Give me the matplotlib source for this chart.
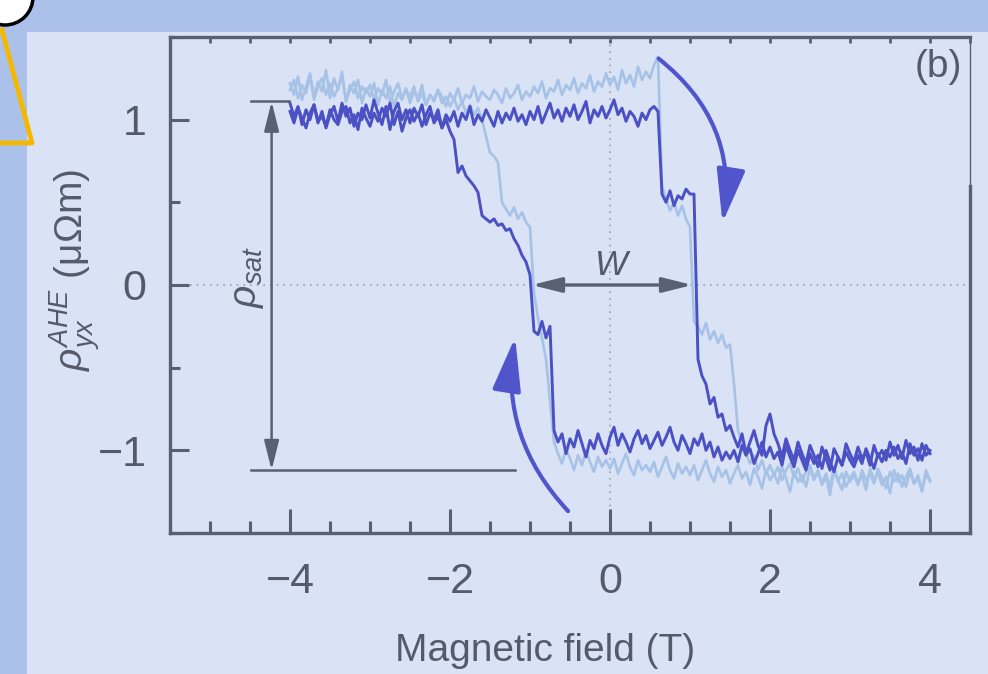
import numpy as np
import matplotlib
matplotlib.use("Agg")
import matplotlib.pyplot as plt
from matplotlib.patches import FancyArrowPatch, Rectangle, Circle
from matplotlib.lines import Line2D
from matplotlib.ticker import MultipleLocator

plt.rcParams['font.family'] = ['Liberation Sans', 'DejaVu Sans']
plt.rcParams['mathtext.fontset'] = 'custom'
plt.rcParams['mathtext.rm'] = 'Liberation Sans'
plt.rcParams['mathtext.it'] = 'Liberation Sans:italic'

# field grid, -4 T .. 4 T in 0.05 T steps (161 points)
field = np.round(np.arange(-4.0, 4.0001, 0.05), 2)

# dark trace, sweep up (-4 -> +4)
dark_up = (
    [1.10, 1.02, 1.08, 0.97, 1.06, 1.00, 1.09, 0.98, 1.05, 0.95,
     1.03, 1.08, 0.99, 1.10, 1.02, 1.07, 0.96, 1.04, 1.00, 1.09,
     1.01, 1.12, 1.04, 0.97, 1.08, 0.94, 1.05, 1.10, 1.00, 1.06,
     0.98, 1.07, 1.02, 1.09, 0.97, 1.04, 1.00, 1.06, 0.95, 1.03,
     0.99, 1.05, 0.96, 1.04, 1.00, 1.08, 0.97, 1.03, 0.99, 1.06,
     1.01, 0.96, 1.05, 0.98, 1.04, 1.00, 1.07, 0.99, 1.03, 0.97,
     1.05, 1.00, 1.08, 0.98, 1.04, 1.10, 1.01, 1.06, 0.99, 1.07,
     1.02, 1.09, 1.00, 1.05, 1.11, 0.98, 1.06, 1.02, 1.08, 1.01,
     1.06, 1.12, 1.03, 1.07, 0.99, 1.05, 1.02, 0.96, 1.04, 1.00,
     1.06, 1.08, 1.05]
    + [0.55, 0.50, 0.57, 0.48, 0.54, 0.52, 0.58, 0.55, 0.55]
    + [-0.45, -0.55, -0.60, -0.72, -0.68, -0.80, -0.78, -0.88, -0.85]
    + [-0.92, -0.98, -0.90, -1.02, -0.95, -0.88, -0.97, -1.03, -0.85, -0.78,
       -0.90, -0.96, -1.04, -0.93, -1.00, -1.06, -0.95, -1.02, -1.08, -0.97,
       -1.03, -1.10, -0.98, -1.05, -1.12, -0.99, -1.04, -1.09, -0.96, -1.02,
       -1.07, -0.98, -1.05, -1.01, -1.09, -0.97, -1.04, -1.00, -1.06, -0.95,
       -1.03, -0.97, -1.05, -0.94, -1.02, -0.98, -1.06, -0.96, -1.03, -1.00]
)

# dark trace, sweep down (+4 -> -4), listed on the same field grid
dark_down = (
    [1.05, 0.98, 1.07, 1.01, 0.95, 1.04, 1.09, 0.99, 1.02, 0.96,
     1.06, 1.00, 0.97, 1.05, 1.08, 0.98, 1.03, 0.94, 1.07, 1.01,
     0.96, 1.04, 0.99, 1.07, 1.02, 1.10, 0.97, 1.05, 0.93, 1.01,
     1.06, 0.99, 1.04, 0.96, 1.03, 1.08, 0.98, 1.02, 0.95, 1.00]
    + [0.93, 0.88, 0.68, 0.72, 0.66, 0.63, 0.60, 0.56, 0.42, 0.40,
       0.38, 0.40, 0.36, 0.37, 0.33, 0.34, 0.28, 0.24, 0.18, 0.14]
    + [0.06, -0.28, -0.30, -0.22, -0.32, -0.25]
    + [-0.88, -0.95, -0.90, -1.02, -0.93, -0.98, -0.88, -0.96, -1.04, -0.94,
       -0.99, -0.90, -0.97, -1.02,
       -0.92, -0.86, -0.97, -0.90, -0.95, -1.01, -0.93, -0.88, -0.96, -0.91,
       -0.99, -0.94, -0.89, -0.97, -0.92, -0.86, -0.95, -1.00, -0.91, -0.96,
       -1.02, -0.93, -0.97, -0.90, -1.00, -0.95, -1.04, -0.98, -1.06, -1.01, -1.05,
       -1.00, -1.07, -0.97, -1.03, -0.99, -1.08, -1.02, -0.95, -1.04, -0.98,
       -1.05, -1.01, -1.09, -0.97, -1.04, -1.10, -1.00, -1.06, -1.12, -1.02,
       -1.08, -1.03, -1.11, -1.00, -1.07, -1.13, -1.04, -1.09, -1.01, -1.06,
       -1.10, -1.03, -1.08, -0.99, -1.05, -1.11, -1.02, -1.07, -1.00, -1.04,
       -0.98, -1.05, -1.01, -1.08, -0.96, -1.03, -0.99, -1.06, -0.97, -1.02]
)

# light trace, sweep up
light_up = (
    [1.22, 1.15, 1.26, 1.12, 1.20, 1.28, 1.14, 1.23, 1.17, 1.30,
     1.13, 1.25, 1.18, 1.29, 1.11, 1.21, 1.16, 1.24, 1.10, 1.19,
     1.14, 1.22, 1.09, 1.18, 1.13, 1.20, 1.08, 1.16, 1.12, 1.19,
     1.10, 1.17, 1.13, 1.21, 1.09, 1.15, 1.11, 1.18, 1.14, 1.08,
     1.16, 1.12, 1.19, 1.10, 1.15, 1.13, 1.20, 1.11, 1.17, 1.14,
     1.12, 1.18, 1.15, 1.10, 1.19, 1.13, 1.16, 1.21, 1.12, 1.17,
     1.14, 1.20, 1.16, 1.23, 1.13, 1.19, 1.17, 1.24, 1.15, 1.21,
     1.18, 1.25, 1.16, 1.22, 1.19, 1.27, 1.17, 1.23, 1.20, 1.28,
     1.21, 1.26, 1.18, 1.30, 1.22, 1.27, 1.20, 1.32, 1.24, 1.29,
     1.25, 1.33, 1.38]
    + [0.60, 0.52, 0.45, 0.50, 0.42, 0.48, 0.40, 0.35]
    + [-0.22, -0.25, -0.30, -0.23, -0.33, -0.28, -0.35, -0.30, -0.38, -0.36]
    + [-0.60, -0.88, -0.95, -1.02,
       -1.08, -1.03, -1.12, -1.06, -1.14, -1.09,
       -1.15, -1.10, -1.18, -1.12, -1.08, -1.16, -1.11, -1.19, -1.13, -1.09,
       -1.17, -1.12, -1.20, -1.14, -1.22, -1.10, -1.18, -1.24, -1.13, -1.19,
       -1.15, -1.21, -1.12, -1.18, -1.14, -1.20, -1.11, -1.17, -1.23, -1.13,
       -1.19, -1.14, -1.22, -1.16, -1.11, -1.20, -1.15, -1.24, -1.12, -1.18]
)

# light trace, sweep down
light_down = (
    [1.18, 1.24, 1.13, 1.21, 1.16, 1.27, 1.12, 1.20, 1.25, 1.15,
     1.22, 1.14, 1.19, 1.26, 1.11, 1.18, 1.23, 1.13, 1.20, 1.16,
     1.21, 1.12, 1.19, 1.15, 1.24, 1.10, 1.17, 1.22, 1.13, 1.18,
     1.14, 1.20, 1.11, 1.16, 1.09, 1.15, 1.12, 1.18, 1.10, 1.14,
     1.08, 1.13, 1.06, 1.11, 1.04, 1.09, 1.03, 1.07, 1.00, 0.90]
    + [0.80, 0.78, 0.74, 0.50, 0.46, 0.42, 0.47, 0.40, 0.44, 0.38, 0.35]
    + [-0.05, -0.20, -0.32, -0.45, -0.70, -0.95]
    + [-1.02, -1.08, -0.99, -1.05, -1.12, -1.03, -1.09, -1.00, -1.07, -1.13,
       -1.04, -1.10, -1.06,
       -1.11, -1.05, -1.14, -1.08, -1.02, -1.10, -1.15, -1.06, -1.12, -1.09,
       -1.13, -1.07, -1.16, -1.10, -1.04, -1.12, -1.17, -1.08, -1.14, -1.10,
       -1.15, -1.09, -1.18, -1.12, -1.06, -1.14, -1.19, -1.10, -1.16, -1.12, -1.20,
       -1.14, -1.09, -1.17, -1.13, -1.21, -1.11, -1.16, -1.23, -1.12, -1.18,
       -1.14, -1.20, -1.10, -1.17, -1.25, -1.13, -1.19, -1.15, -1.22, -1.11,
       -1.18, -1.13, -1.21, -1.16, -1.27, -1.12, -1.19, -1.14, -1.22, -1.17,
       -1.13, -1.20, -1.15, -1.24, -1.11, -1.18, -1.14, -1.21, -1.16, -1.26,
       -1.12, -1.19, -1.15, -1.22, -1.13, -1.20, -1.17, -1.25, -1.14, -1.19]
)

for name, arr in [('dark_up', dark_up), ('dark_down', dark_down),
                  ('light_up', light_up), ('light_down', light_down)]:
    assert len(arr) == len(field), (name, len(arr))

x_ticks = [-4, -2, 0, 2, 4]
y_ticks = [-1, 0, 1]
rho_sat_top, rho_sat_bottom = 1.11, -1.12
coercive_left, coercive_right = -0.98, 1.03

DARK = '#4b50c4'
LIGHT = '#a6c2e6'
GREY = '#586072'
PANEL = '#d9e3f5'

fig = plt.figure(figsize=(9.88, 6.74), dpi=100)
fig.patch.set_facecolor('#abc1ea')
fig.patches.append(Rectangle((27 / 988, 0), 1, (674 - 32) / 674, transform=fig.transFigure,
                             facecolor=PANEL, edgecolor='none', zorder=-5))
fig.lines.append(Line2D([2 / 988, 32 / 988, 0], [1 - 30 / 674, 1 - 143 / 674, 1 - 143 / 674],
                        transform=fig.transFigure, color='#f5b800', lw=3.5, zorder=-4))
fig.patches.append(Circle((5, 674 + 3), 28, transform=None, facecolor='white',
                          edgecolor='black', lw=2.5, zorder=-3))

ax = fig.add_axes([170 / 988, 1 - 533 / 674, 800 / 988, 496 / 674])
ax.set_facecolor(PANEL)

ax.plot(field, light_up, color=LIGHT, lw=1.9, zorder=2)
ax.plot(field, light_down, color=LIGHT, lw=1.9, zorder=2)
ax.plot(field, dark_up, color=DARK, lw=2.1, zorder=3)
ax.plot(field, dark_down, color=DARK, lw=2.1, zorder=3)

ax.axhline(0, color='#9aa2b4', lw=1.2, ls=(0, (1, 3)), zorder=1)
ax.axvline(0, color='#9aa2b4', lw=1.2, ls=(0, (1, 3)), zorder=1)

ax.set_xlim(-5.5, 4.5)
ax.set_ylim(-1.5, 1.5)
ax.set_xticks(x_ticks)
ax.set_yticks(y_ticks)
ax.xaxis.set_minor_locator(MultipleLocator(0.5))
ax.yaxis.set_minor_locator(MultipleLocator(0.5))
ax.tick_params(which='both', direction='in', color=GREY, width=2.2, labelcolor='#555a6a', labelsize=31)
ax.tick_params(axis='x', which='major', length=17, pad=21)
ax.tick_params(axis='x', which='minor', length=9)
ax.tick_params(axis='y', which='major', length=14, pad=17)
ax.tick_params(axis='y', which='minor', length=7)

top = ax.secondary_xaxis('top')
top.xaxis.set_major_locator(MultipleLocator(0.5))
top.tick_params(direction='in', length=4, width=2, color=GREY, labeltop=False)
top.spines['top'].set_visible(False)

for side in ['left', 'bottom', 'top']:
    ax.spines[side].set_color(GREY)
    ax.spines[side].set_linewidth(2.4)
ax.spines['right'].set_color(GREY)
ax.spines['right'].set_linewidth(1.0)
ax.plot([1, 1], [0, 0.7], transform=ax.transAxes, color=GREY, lw=2.4, clip_on=False, zorder=5)

ax.set_xlabel('Magnetic field (T)', fontsize=28, color='#555a6a')
ax.xaxis.set_label_coords(0.469, -0.238)
ax.xaxis.label.set_va('center')
ax.set_ylabel(r'$\rho_{yx}^{AHE}$ (μΩm)', fontsize=28, color='#555a6a')
ax.yaxis.set_label_coords(-0.119, 0.53)
ax.yaxis.label.set_va('center')

# rho_sat marker
ax.plot([-4.49, -4.01], [rho_sat_top, rho_sat_top], color=GREY, lw=1.8, zorder=4)
ax.plot([-4.49, -1.19], [rho_sat_bottom, rho_sat_bottom], color=GREY, lw=1.8, zorder=4)
ax.annotate('', xy=(-4.23, rho_sat_bottom), xytext=(-4.23, rho_sat_top),
            arrowprops=dict(arrowstyle='<|-|>,head_length=1.8,head_width=0.45', color=GREY,
                            lw=1.8, shrinkA=0, shrinkB=0), zorder=4)
ax.text(-4.52, 0.05, r'$\rho_{sat}$', rotation=90, fontsize=28, color='#555a6a',
        ha='center', va='center')

# coercive width W
ax.annotate('', xy=(coercive_left, 0), xytext=(coercive_right, 0),
            arrowprops=dict(arrowstyle='<|-|>,head_length=1.8,head_width=0.45', color=GREY,
                            lw=2.4, shrinkA=0, shrinkB=0), zorder=4)
ax.text(0.02, 0.12, 'W', style='italic', fontsize=25, color='#555a6a', ha='center', va='center')

ax.text(4.4, 1.32, '(b)', fontsize=28, color='#555a6a', ha='right', va='center')

# sweep-direction arrows
ax.add_patch(FancyArrowPatch((-0.5, -1.38), (-1.18, -0.30), connectionstyle='arc3,rad=-0.25',
                             arrowstyle='-|>,head_length=1.5,head_width=0.4', mutation_scale=22,
                             color='#5055cc', lw=3.0, zorder=6))
ax.add_patch(FancyArrowPatch((0.58, 1.38), (1.4, 0.36), connectionstyle='arc3,rad=-0.3',
                             arrowstyle='-|>,head_length=1.5,head_width=0.4', mutation_scale=22,
                             color='#5055cc', lw=3.0, zorder=6))

fig.savefig('out.png', dpi=100, facecolor=fig.get_facecolor())
